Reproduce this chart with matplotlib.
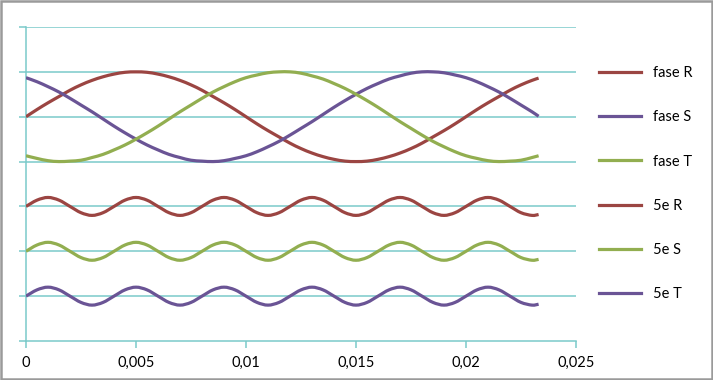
import matplotlib
matplotlib.use("Agg")
import matplotlib.pyplot as plt
from matplotlib.path import Path
from matplotlib.patches import PathPatch, Rectangle
from matplotlib.lines import Line2D
from matplotlib.ticker import FuncFormatter

# ---- data ----
t = [0.0000, 0.0005, 0.0010, 0.0015, 0.0020, 0.0025, 0.0030, 0.0035, 0.0040, 0.0045,
     0.0050, 0.0055, 0.0060, 0.0065, 0.0070, 0.0075, 0.0080, 0.0085, 0.0090, 0.0095,
     0.0100, 0.0105, 0.0110, 0.0115, 0.0120, 0.0125, 0.0130, 0.0135, 0.0140, 0.0145,
     0.0150, 0.0155, 0.0160, 0.0165, 0.0170, 0.0175, 0.0180, 0.0185, 0.0190, 0.0195,
     0.0200, 0.0205, 0.0210, 0.0215, 0.0220, 0.0225, 0.0230, 0.0233]

fase_R = [5.00, 5.16, 5.31, 5.45, 5.59, 5.71, 5.81, 5.89, 5.95, 5.99,
          6.00, 5.99, 5.95, 5.89, 5.81, 5.71, 5.59, 5.45, 5.31, 5.16,
          5.00, 4.84, 4.69, 4.55, 4.41, 4.29, 4.19, 4.11, 4.05, 4.01,
          4.00, 4.01, 4.05, 4.11, 4.19, 4.29, 4.41, 4.55, 4.69, 4.84,
          5.00, 5.16, 5.31, 5.45, 5.59, 5.71, 5.81, 5.86]
fase_S = [5.87, 5.78, 5.67, 5.55, 5.41, 5.26, 5.11, 4.95, 4.79, 4.64,
          4.50, 4.37, 4.26, 4.16, 4.09, 4.03, 4.01, 4.00, 4.02, 4.07,
          4.13, 4.22, 4.33, 4.45, 4.59, 4.74, 4.89, 5.05, 5.21, 5.36,
          5.50, 5.63, 5.74, 5.84, 5.91, 5.97, 6.00, 6.00, 5.98, 5.93,
          5.87, 5.78, 5.67, 5.55, 5.41, 5.26, 5.11, 5.01]
fase_T = [4.13, 4.07, 4.02, 4.00, 4.01, 4.03, 4.09, 4.16, 4.26, 4.37,
          4.50, 4.64, 4.79, 4.95, 5.11, 5.26, 5.41, 5.55, 5.67, 5.78,
          5.87, 5.93, 5.98, 6.00, 6.00, 5.97, 5.91, 5.84, 5.74, 5.63,
          5.50, 5.36, 5.21, 5.05, 4.89, 4.74, 4.59, 4.45, 4.33, 4.22,
          4.13, 4.07, 4.02, 4.00, 4.01, 4.03, 4.09, 4.13]
h5_R = [3.00, 3.14, 3.20, 3.14, 3.00, 2.86, 2.80, 2.86,
        3.00, 3.14, 3.20, 3.14, 3.00, 2.86, 2.80, 2.86,
        3.00, 3.14, 3.20, 3.14, 3.00, 2.86, 2.80, 2.86,
        3.00, 3.14, 3.20, 3.14, 3.00, 2.86, 2.80, 2.86,
        3.00, 3.14, 3.20, 3.14, 3.00, 2.86, 2.80, 2.86,
        3.00, 3.14, 3.20, 3.14, 3.00, 2.86, 2.80, 2.82]
h5_S = [2.00, 2.14, 2.20, 2.14, 2.00, 1.86, 1.80, 1.86,
        2.00, 2.14, 2.20, 2.14, 2.00, 1.86, 1.80, 1.86,
        2.00, 2.14, 2.20, 2.14, 2.00, 1.86, 1.80, 1.86,
        2.00, 2.14, 2.20, 2.14, 2.00, 1.86, 1.80, 1.86,
        2.00, 2.14, 2.20, 2.14, 2.00, 1.86, 1.80, 1.86,
        2.00, 2.14, 2.20, 2.14, 2.00, 1.86, 1.80, 1.82]
h5_T = [1.00, 1.14, 1.20, 1.14, 1.00, 0.86, 0.80, 0.86,
        1.00, 1.14, 1.20, 1.14, 1.00, 0.86, 0.80, 0.86,
        1.00, 1.14, 1.20, 1.14, 1.00, 0.86, 0.80, 0.86,
        1.00, 1.14, 1.20, 1.14, 1.00, 0.86, 0.80, 0.86,
        1.00, 1.14, 1.20, 1.14, 1.00, 0.86, 0.80, 0.86,
        1.00, 1.14, 1.20, 1.14, 1.00, 0.86, 0.80, 0.82]

series_names = ["fase R", "fase S", "fase T", "5e R", "5e S", "5e T"]
series_values = [fase_R, fase_S, fase_T, h5_R, h5_S, h5_T]
x_tick_values = [0, 0.005, 0.01, 0.015, 0.02, 0.025]

RED = "#9B4542"
PURPLE = "#6A5495"
GREEN = "#92AE50"
series_colors = [RED, PURPLE, GREEN, RED, GREEN, PURPLE]
GRID = "#7ACACA"
FONT = ["Lato", "DejaVu Sans"]


def smooth_path(xs, ys):
    """Excel-like smoothed line: Catmull-Rom spline expressed as cubic Beziers."""
    n = len(xs)
    verts = [(xs[0], ys[0])]
    codes = [Path.MOVETO]
    for i in range(n - 1):
        x0, y0 = (xs[i - 1], ys[i - 1]) if i > 0 else (xs[i], ys[i])
        x1, y1 = xs[i], ys[i]
        x2, y2 = xs[i + 1], ys[i + 1]
        x3, y3 = (xs[i + 2], ys[i + 2]) if i + 2 < n else (x2, y2)
        c1 = (x1 + (x2 - x0) / 6.0, y1 + (y2 - y0) / 6.0)
        c2 = (x2 - (x3 - x1) / 6.0, y2 - (y3 - y1) / 6.0)
        verts += [c1, c2, (x2, y2)]
        codes += [Path.CURVE4] * 3
    return Path(verts, codes)


fig = plt.figure(figsize=(7.13, 3.80), dpi=100)
fig.patch.set_facecolor("white")
fig.patches.append(Rectangle((0.0015, 0.003), 0.9965, 0.994, transform=fig.transFigure,
                             fill=False, edgecolor="#9A9A9A", linewidth=1.8))

ax = fig.add_axes([26 / 713, 39 / 380, 550 / 713, 314 / 380])
ax.set_xlim(0, 0.025)
ax.set_ylim(0, 7)

for y in range(1, 8):
    ax.axhline(y, color=GRID, linewidth=1.1, zorder=1)

lw = 2.3
for vals, col in zip(series_values, series_colors):
    ax.add_patch(PathPatch(smooth_path(t, vals), fill=False, edgecolor=col,
                           linewidth=lw, capstyle="butt", joinstyle="round", zorder=3))

for s in ["top", "right"]:
    ax.spines[s].set_visible(False)
for s in ["left", "bottom"]:
    ax.spines[s].set_color(GRID)
    ax.spines[s].set_linewidth(1.1)

ax.set_xticks(x_tick_values)
ax.xaxis.set_major_formatter(FuncFormatter(lambda v, p: ("%g" % round(v, 4)).replace(".", ",")))
ax.set_yticks(range(0, 8))
ax.set_yticklabels([])
ax.tick_params(axis="x", direction="out", length=5, width=1.1, color=GRID, pad=6,
               labelsize=10.5)
ax.tick_params(axis="y", direction="out", length=5, width=1.1, color=GRID)
for lab in ax.get_xticklabels():
    lab.set_fontfamily(FONT)

handles = [Line2D([0], [0], color=c, linewidth=lw) for c in series_colors]
leg = fig.legend(handles, series_names, loc="upper left",
                 bbox_to_anchor=(586 / 713, 1 - 53 / 380), frameon=False,
                 prop={"family": FONT, "size": 10.5}, handlelength=2.9,
                 handletextpad=0.8, labelspacing=2.07)

fig.savefig("out.png", dpi=100)
